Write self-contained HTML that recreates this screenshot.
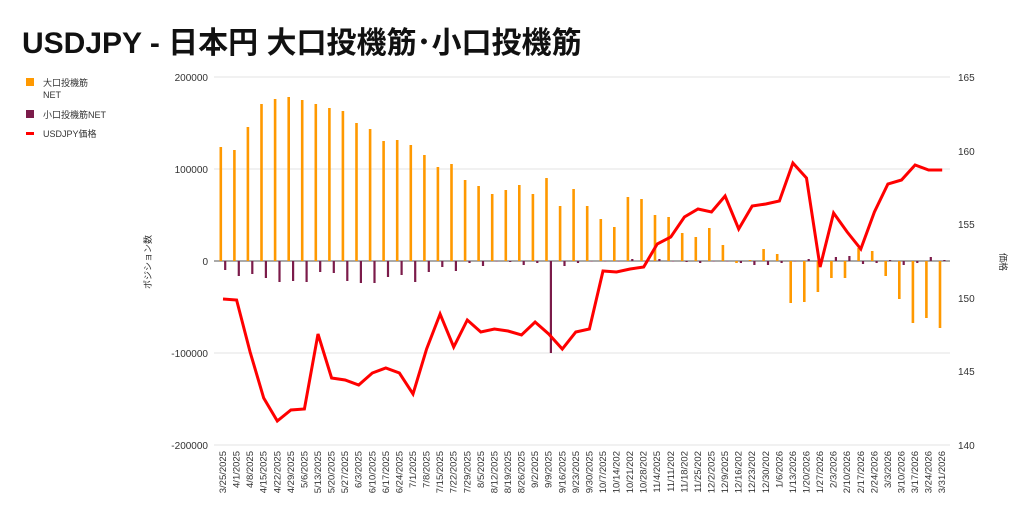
<!DOCTYPE html>
<html><head><meta charset="utf-8"><style>
body{margin:0;background:#fff;width:1024px;height:525px;overflow:hidden;font-family:"Liberation Sans","Noto Sans CJK JP",sans-serif}
</style></head><body>
<svg id="s" width="1024" height="525" xmlns="http://www.w3.org/2000/svg" font-family="Liberation Sans, Noto Sans CJK JP, sans-serif">
<text x="22" y="53" font-size="30" font-weight="bold" fill="#111">USDJPY - 日本円 大口投機筋･小口投機筋</text>
<rect x="26" y="78" width="8" height="8" fill="#ff9900"/>
<text x="43" y="86" font-size="9" fill="#333">大口投機筋</text>
<text x="43" y="98" font-size="9" fill="#333">NET</text>
<rect x="26" y="110" width="8" height="8" fill="#7b1b4a"/>
<text x="43" y="118" font-size="9" fill="#333">小口投機筋NET</text>
<rect x="26" y="132" width="8" height="3" fill="#ff0000"/>
<text x="43" y="137" font-size="9" fill="#333">USDJPY価格</text>
<g id="g"></g>
<text transform="translate(151,262) rotate(-90)" text-anchor="middle" font-size="9" fill="#333">ポジション数</text>
<text transform="translate(1000,262) rotate(90)" text-anchor="middle" font-size="9" fill="#333">価格</text>
</svg>
<script>
var g=document.getElementById('g'),h='';
[[77,'200000'],[169,'100000'],[261,'0'],[353,'-100000'],[445,'-200000']].forEach(function(a){
h+='<line x1="214" x2="950" y1="'+a[0]+'" y2="'+a[0]+'" stroke="'+(a[1]=='0'?'#555':'#e3e3e3')+'" stroke-width="1"/>';
h+='<text x="208" y="'+(a[0]+4)+'" text-anchor="end" font-size="10" fill="#333">'+a[1]+'</text>';});
[[77,165],[151,160],[224,155],[298,150],[371,145],[445,140]].forEach(function(a){
h+='<text x="958" y="'+(a[0]+4)+'" font-size="10" fill="#333">'+a[1]+'</text>';});
var o=[147,150,127,104,99,97,100,104,108,111,123,129,141,140,145,155,167,164,180,186,194,190,185,194,178,206,189,206,219,227,197,199,215,217,233,237,228,245,263,260,249,254,303,302,292,278,278,248,251,276,299,323,318,328];
var p=[270,276,274,278,282,281,282,272,273,281,283,283,277,275,282,272,267,271,263,266,261,262,265,263,353,266,263,261,261,261,259,261,259,261,262,263,261,261,263,265,265,263,261,259,261,257,256,264,263,260,265,263,257,260];
var pr=[299,300,352,398,421,410,409,334,378,380,385,373,368,373,394,349,314,347,320,332,329,331,335,322,334,349,332,329,271,272,269,267,244,237,217,209,212,196,229,206,204,201,163,178,267,213,232,249,212,184,180,165,170,170];
var labs=['3/25/2025','4/1/2025','4/8/2025','4/15/2025','4/22/2025','4/29/2025','5/6/2025','5/13/2025','5/20/2025','5/27/2025','6/3/2025','6/10/2025','6/17/2025','6/24/2025','7/1/2025','7/8/2025','7/15/2025','7/22/2025','7/29/2025','8/5/2025','8/12/2025','8/19/2025','8/26/2025','9/2/2025','9/9/2025','9/16/2025','9/23/2025','9/30/2025','10/7/2025','10/14/202','10/21/202','10/28/202','11/4/2025','11/11/202','11/18/202','11/25/202','12/2/2025','12/9/2025','12/16/202','12/23/202','12/30/202','1/6/2026','1/13/2026','1/20/2026','1/27/2026','2/3/2026','2/10/2026','2/17/2026','2/24/2026','3/3/2026','3/10/2026','3/17/2026','3/24/2026','3/31/2026'];
var pts=[];
for(var i=0;i<54;i++){var x=219.5+13.57*i;
var y1=Math.min(o[i],261),y2=Math.max(o[i],261);
h+='<rect x="'+x.toFixed(1)+'" y="'+y1+'" width="2.6" height="'+Math.max(y2-y1,0.5)+'" fill="#ff9900"/>';
y1=Math.min(p[i],261);y2=Math.max(p[i],261);
h+='<rect x="'+(x+4.6).toFixed(1)+'" y="'+y1+'" width="2.2" height="'+Math.max(y2-y1,0.5)+'" fill="#7b1b4a"/>';
pts.push((x+3.5).toFixed(1)+','+pr[i]);
h+='<text transform="translate('+(x+6.5).toFixed(1)+',451) rotate(-90)" text-anchor="end" font-size="9.5" fill="#333">'+labs[i]+'</text>';}
h+='<polyline points="'+pts.join(' ')+'" fill="none" stroke="#ff0000" stroke-width="3" stroke-linejoin="miter"/>';
g.innerHTML=h;
</script>
</body></html>
